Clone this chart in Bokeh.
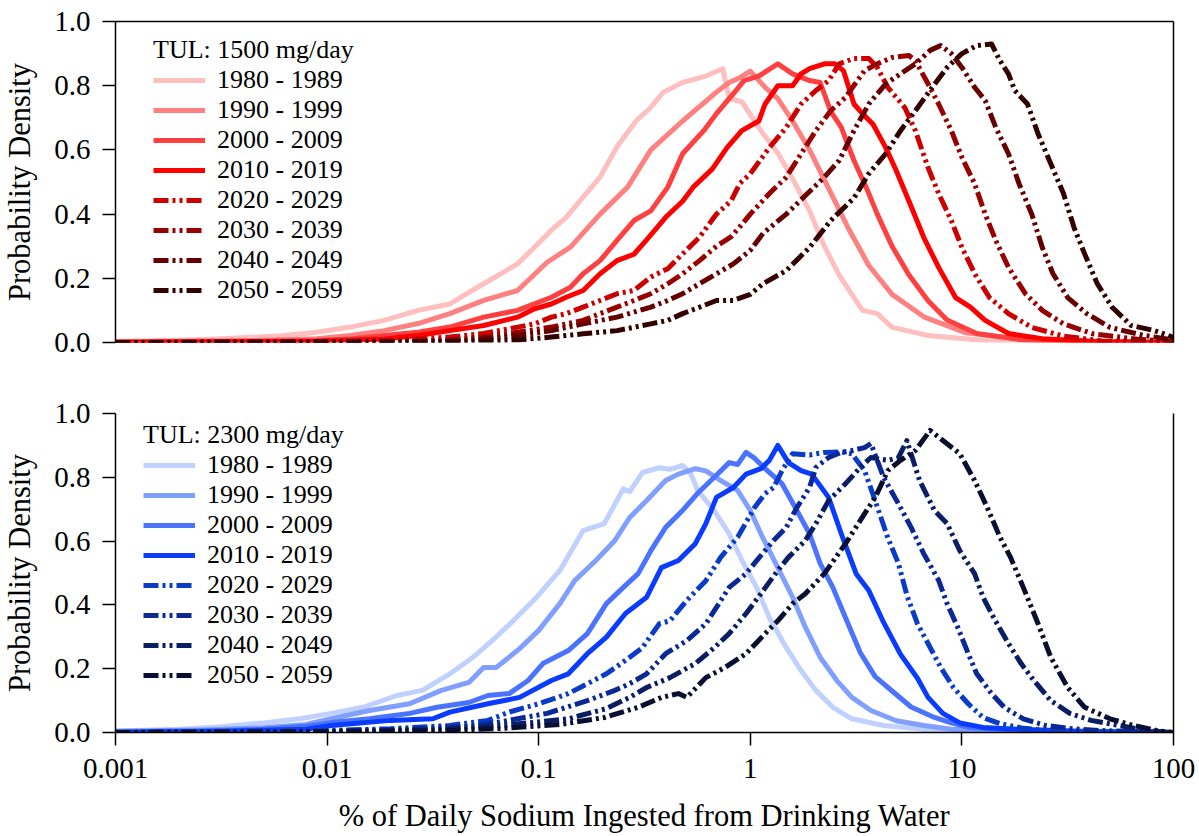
from bokeh.plotting import figure
from bokeh.models import (Range1d, LogAxis, LinearAxis, FixedTicker, PrintfTickFormatter,
                          CustomJSTickFormatter, Legend, LegendItem)
from bokeh.layouts import column
from bokeh.embed import file_html
from bokeh.resources import INLINE

# ---------------- data (x given as log10 of %, y = probability density) ----------------
DECADES = ["1980 - 1989", "1990 - 1999", "2000 - 2009", "2010 - 2019",
           "2020 - 2029", "2030 - 2039", "2040 - 2049", "2050 - 2059"]
TUL_TOP = "TUL: 1500 mg/day"
TUL_BOTTOM = "TUL: 2300 mg/day"
X_LABEL = "% of Daily Sodium Ingested from Drinking Water"
Y_LABEL = "Probability Density"
X_TICKS = [0.001, 0.01, 0.1, 1, 10, 100]
Y_TICKS = [0.0, 0.2, 0.4, 0.6, 0.8, 1.0]
RED_COLORS = ["#FFBFBF", "#FF8080", "#FF4040", "#FF0000", "#CC0000", "#990000", "#660000", "#330000"]
BLUE_COLORS = ["#C0D0FF", "#809FFF", "#4A73FF", "#0A3CFF", "#0A3CC8", "#0A2896", "#0A1E64", "#0A0F32"]

top_1980 = [(-3.0, 0.003), (-2.7, 0.007), (-2.5, 0.012), (-2.36, 0.016), (-2.2, 0.022), (-2.05, 0.032),
            (-1.89, 0.048), (-1.73, 0.069), (-1.57, 0.10), (-1.42, 0.12), (-1.34, 0.152), (-1.26, 0.183),
            (-1.18, 0.214), (-1.10, 0.245), (-1.02, 0.297), (-0.94, 0.35), (-0.87, 0.39), (-0.79, 0.453),
            (-0.71, 0.515), (-0.63, 0.61), (-0.54, 0.69), (-0.47, 0.733), (-0.41, 0.78), (-0.32, 0.81),
            (-0.21, 0.83), (-0.13, 0.853), (-0.10, 0.76), (-0.04, 0.75), (0.05, 0.66), (0.13, 0.59),
            (0.20, 0.51), (0.28, 0.41), (0.35, 0.30), (0.42, 0.21), (0.53, 0.10), (0.60, 0.09),
            (0.67, 0.047), (0.84, 0.022), (1.11, 0.006), (1.5, 0.002), (2.0, 0.0)]
top_1990 = [(-3.0, 0.002), (-2.7, 0.004), (-2.36, 0.006), (-2.05, 0.012), (-1.89, 0.022), (-1.73, 0.037),
            (-1.57, 0.059), (-1.42, 0.09), (-1.26, 0.131), (-1.10, 0.162), (-0.96, 0.25), (-0.85, 0.297),
            (-0.71, 0.40), (-0.58, 0.484), (-0.47, 0.60), (-0.32, 0.69), (-0.16, 0.78), (-0.10, 0.81),
            (-0.05, 0.825), (0.0, 0.845), (0.07, 0.795), (0.13, 0.76), (0.20, 0.69), (0.28, 0.60),
            (0.37, 0.48), (0.46, 0.36), (0.56, 0.24), (0.67, 0.15), (0.82, 0.08), (1.02, 0.03),
            (1.29, 0.01), (1.6, 0.003), (2.0, 0.0)]
top_2000 = [(-3.0, 0.001), (-2.5, 0.003), (-2.05, 0.006), (-1.89, 0.011), (-1.73, 0.022), (-1.57, 0.032),
            (-1.42, 0.048), (-1.26, 0.079), (-1.10, 0.10), (-0.94, 0.141), (-0.85, 0.172), (-0.79, 0.214),
            (-0.71, 0.255), (-0.63, 0.318), (-0.55, 0.38), (-0.47, 0.41), (-0.39, 0.484), (-0.32, 0.588),
            (-0.22, 0.66), (-0.16, 0.713), (-0.08, 0.775), (-0.03, 0.816), (0.04, 0.83), (0.13, 0.868),
            (0.20, 0.837), (0.28, 0.816), (0.33, 0.81), (0.38, 0.72), (0.43, 0.67), (0.49, 0.567),
            (0.55, 0.48), (0.60, 0.40), (0.67, 0.30), (0.75, 0.21), (0.84, 0.13), (0.93, 0.07),
            (1.07, 0.028), (1.29, 0.008), (1.65, 0.002), (2.0, 0.0)]
top_2010 = [(-3.0, 0.001), (-2.5, 0.002), (-2.05, 0.004), (-1.73, 0.011), (-1.57, 0.022), (-1.42, 0.037),
            (-1.26, 0.053), (-1.10, 0.079), (-1.02, 0.105), (-0.94, 0.12), (-0.87, 0.141), (-0.79, 0.162),
            (-0.71, 0.214), (-0.63, 0.255), (-0.55, 0.275), (-0.49, 0.32), (-0.40, 0.39), (-0.32, 0.44),
            (-0.27, 0.484), (-0.18, 0.54), (-0.11, 0.607), (-0.04, 0.66), (0.04, 0.69), (0.07, 0.743),
            (0.13, 0.80), (0.20, 0.80), (0.24, 0.837), (0.28, 0.853), (0.35, 0.868), (0.40, 0.868),
            (0.44, 0.847), (0.49, 0.743), (0.53, 0.713), (0.58, 0.68), (0.64, 0.607), (0.69, 0.535),
            (0.75, 0.44), (0.82, 0.327), (0.89, 0.234), (0.97, 0.14), (1.04, 0.11), (1.11, 0.069),
            (1.22, 0.028), (1.38, 0.012), (1.66, 0.002), (2.0, 0.0)]
top_2020 = [(-3.0, 0.0), (-2.5, 0.001), (-2.0, 0.002), (-1.73, 0.006), (-1.42, 0.017), (-1.26, 0.028),
            (-1.10, 0.048), (-1.02, 0.058), (-0.94, 0.079), (-0.87, 0.09), (-0.79, 0.11), (-0.71, 0.131),
            (-0.63, 0.152), (-0.55, 0.162), (-0.47, 0.204), (-0.39, 0.23), (-0.32, 0.276), (-0.24, 0.328),
            (-0.16, 0.40), (-0.09, 0.442), (-0.05, 0.495), (0.0, 0.526), (0.09, 0.607), (0.17, 0.67),
            (0.24, 0.743), (0.31, 0.785), (0.37, 0.816), (0.42, 0.868), (0.49, 0.885), (0.56, 0.885),
            (0.60, 0.857), (0.65, 0.795), (0.73, 0.732), (0.78, 0.66), (0.84, 0.545), (0.89, 0.464),
            (0.95, 0.38), (1.00, 0.296), (1.06, 0.215), (1.13, 0.14), (1.22, 0.09), (1.33, 0.047),
            (1.48, 0.02), (1.66, 0.005), (2.0, 0.0)]
top_2030 = [(-3.0, 0.0), (-2.0, 0.001), (-1.6, 0.004), (-1.42, 0.008), (-1.26, 0.017), (-1.10, 0.032),
            (-0.94, 0.048), (-0.79, 0.069), (-0.71, 0.09), (-0.63, 0.11), (-0.55, 0.131), (-0.47, 0.152),
            (-0.39, 0.183), (-0.32, 0.214), (-0.24, 0.255), (-0.16, 0.30), (-0.09, 0.33), (-0.05, 0.36),
            (0.0, 0.40), (0.09, 0.464), (0.17, 0.515), (0.24, 0.588), (0.31, 0.66), (0.38, 0.722),
            (0.45, 0.764), (0.54, 0.847), (0.60, 0.868), (0.67, 0.888), (0.75, 0.894), (0.78, 0.878),
            (0.84, 0.806), (0.89, 0.743), (0.95, 0.66), (1.00, 0.577), (1.06, 0.495), (1.11, 0.40),
            (1.16, 0.318), (1.22, 0.234), (1.30, 0.152), (1.38, 0.10), (1.48, 0.058), (1.62, 0.027),
            (1.83, 0.01), (2.0, 0.003)]
top_2040 = [(-3.0, 0.0), (-2.0, 0.001), (-1.4, 0.004), (-1.26, 0.011), (-1.10, 0.022), (-0.94, 0.037),
            (-0.79, 0.058), (-0.63, 0.079), (-0.47, 0.11), (-0.39, 0.131), (-0.32, 0.152), (-0.24, 0.183),
            (-0.16, 0.214), (-0.08, 0.245), (0.0, 0.287), (0.06, 0.34), (0.17, 0.40), (0.27, 0.464),
            (0.35, 0.515), (0.42, 0.567), (0.49, 0.66), (0.56, 0.743), (0.64, 0.806), (0.71, 0.837),
            (0.78, 0.868), (0.85, 0.91), (0.90, 0.925), (0.95, 0.90), (1.00, 0.857), (1.06, 0.795),
            (1.11, 0.754), (1.16, 0.67), (1.22, 0.588), (1.27, 0.495), (1.33, 0.40), (1.38, 0.296),
            (1.43, 0.215), (1.50, 0.14), (1.59, 0.09), (1.70, 0.047), (1.86, 0.022), (2.0, 0.008)]
top_2050 = [(-3.0, 0.0), (-1.6, 0.002), (-1.26, 0.005), (-1.10, 0.008), (-0.94, 0.017), (-0.79, 0.027),
            (-0.63, 0.037), (-0.47, 0.058), (-0.39, 0.069), (-0.32, 0.09), (-0.24, 0.11), (-0.16, 0.131),
            (-0.08, 0.131), (0.0, 0.15), (0.06, 0.183), (0.17, 0.224), (0.28, 0.296), (0.38, 0.38),
            (0.49, 0.45), (0.56, 0.526), (0.64, 0.588), (0.71, 0.66), (0.78, 0.722), (0.86, 0.795),
            (0.93, 0.857), (1.00, 0.90), (1.07, 0.925), (1.14, 0.93), (1.18, 0.878), (1.22, 0.837),
            (1.25, 0.785), (1.31, 0.743), (1.36, 0.65), (1.42, 0.557), (1.48, 0.464), (1.53, 0.358),
            (1.58, 0.276), (1.64, 0.183), (1.71, 0.11), (1.80, 0.053), (1.91, 0.037), (2.0, 0.016)]

bot_1980 = [(-3.0, 0.005), (-2.7, 0.01), (-2.5, 0.018), (-2.3, 0.03), (-2.12, 0.044), (-1.98, 0.06),
            (-1.83, 0.079), (-1.67, 0.116), (-1.55, 0.132), (-1.42, 0.184), (-1.31, 0.236), (-1.22, 0.288),
            (-1.12, 0.35), (-1.01, 0.424), (-0.90, 0.508), (-0.79, 0.633), (-0.69, 0.655), (-0.60, 0.764),
            (-0.57, 0.755), (-0.51, 0.815), (-0.43, 0.83), (-0.38, 0.825), (-0.32, 0.837), (-0.28, 0.81),
            (-0.25, 0.76), (-0.17, 0.695), (-0.10, 0.623), (-0.04, 0.54), (0.03, 0.455), (0.09, 0.36),
            (0.17, 0.266), (0.24, 0.194), (0.31, 0.132), (0.39, 0.079), (0.48, 0.043), (0.63, 0.022),
            (0.82, 0.01), (1.1, 0.003), (1.5, 0.001), (2.0, 0.0)]
bot_1990 = [(-3.0, 0.004), (-2.6, 0.008), (-2.3, 0.015), (-2.1, 0.025), (-1.98, 0.043), (-1.80, 0.069),
            (-1.61, 0.09), (-1.46, 0.132), (-1.33, 0.157), (-1.26, 0.204), (-1.20, 0.204), (-1.09, 0.263),
            (-1.00, 0.32), (-0.90, 0.404), (-0.83, 0.476), (-0.73, 0.539), (-0.64, 0.602), (-0.57, 0.674),
            (-0.49, 0.727), (-0.40, 0.79), (-0.34, 0.81), (-0.26, 0.827), (-0.21, 0.82), (-0.14, 0.79),
            (-0.06, 0.759), (0.00, 0.696), (0.05, 0.623), (0.13, 0.517), (0.20, 0.424), (0.26, 0.33),
            (0.33, 0.236), (0.41, 0.162), (0.48, 0.11), (0.57, 0.069), (0.69, 0.037), (0.82, 0.022),
            (0.95, 0.01), (1.2, 0.004), (1.6, 0.001), (2.0, 0.0)]
bot_2000 = [(-3.0, 0.002), (-2.6, 0.005), (-2.3, 0.01), (-2.1, 0.02), (-1.98, 0.031), (-1.80, 0.043),
            (-1.61, 0.06), (-1.48, 0.079), (-1.33, 0.094), (-1.24, 0.116), (-1.14, 0.122), (-1.05, 0.163),
            (-0.98, 0.216), (-0.86, 0.257), (-0.77, 0.31), (-0.68, 0.404), (-0.60, 0.455), (-0.53, 0.498),
            (-0.47, 0.57), (-0.40, 0.643), (-0.32, 0.696), (-0.25, 0.749), (-0.17, 0.80), (-0.10, 0.846),
            (-0.06, 0.84), (-0.02, 0.878), (0.02, 0.86), (0.07, 0.827), (0.15, 0.78), (0.22, 0.696),
            (0.28, 0.623), (0.33, 0.53), (0.39, 0.455), (0.45, 0.36), (0.52, 0.25), (0.59, 0.175),
            (0.67, 0.13), (0.76, 0.08), (0.86, 0.05), (0.95, 0.03), (1.03, 0.016), (1.18, 0.01),
            (1.5, 0.003), (2.0, 0.0)]
bot_2010 = [(-3.0, 0.001), (-2.5, 0.004), (-2.1, 0.01), (-1.98, 0.022), (-1.70, 0.038), (-1.50, 0.043),
            (-1.42, 0.064), (-1.24, 0.09), (-1.09, 0.11), (-0.94, 0.163), (-0.86, 0.184), (-0.77, 0.247),
            (-0.68, 0.299), (-0.59, 0.373), (-0.49, 0.424), (-0.42, 0.517), (-0.34, 0.539), (-0.26, 0.592),
            (-0.21, 0.655), (-0.16, 0.737), (-0.08, 0.768), (-0.02, 0.81), (0.05, 0.827), (0.09, 0.853),
            (0.13, 0.90), (0.18, 0.846), (0.24, 0.821), (0.29, 0.81), (0.37, 0.737), (0.43, 0.623),
            (0.50, 0.498), (0.56, 0.445), (0.63, 0.345), (0.71, 0.245), (0.79, 0.17), (0.84, 0.11),
            (0.91, 0.06), (0.99, 0.03), (1.10, 0.016), (1.26, 0.01), (1.6, 0.003), (2.0, 0.0)]
bot_2020 = [(-3.0, 0.0), (-2.5, 0.002), (-2.0, 0.006), (-1.7, 0.012), (-1.42, 0.022), (-1.24, 0.038),
            (-1.14, 0.064), (-1.00, 0.09), (-0.86, 0.122), (-0.77, 0.153), (-0.68, 0.184), (-0.59, 0.226),
            (-0.51, 0.266), (-0.43, 0.341), (-0.38, 0.35), (-0.30, 0.414), (-0.21, 0.476), (-0.14, 0.549),
            (-0.06, 0.612), (0.02, 0.705), (0.07, 0.749), (0.11, 0.768), (0.15, 0.821), (0.20, 0.874),
            (0.28, 0.87), (0.35, 0.878), (0.43, 0.88), (0.48, 0.874), (0.54, 0.821), (0.59, 0.727),
            (0.65, 0.61), (0.70, 0.53), (0.74, 0.43), (0.79, 0.341), (0.84, 0.279), (0.90, 0.204),
            (0.96, 0.141), (1.03, 0.09), (1.10, 0.047), (1.18, 0.028), (1.29, 0.013), (1.42, 0.006),
            (2.0, 0.0)]
bot_2030 = [(-3.0, 0.0), (-2.5, 0.001), (-2.0, 0.004), (-1.6, 0.01), (-1.3, 0.02), (-1.14, 0.038),
            (-0.96, 0.06), (-0.77, 0.10), (-0.64, 0.132), (-0.57, 0.153), (-0.49, 0.184), (-0.40, 0.247),
            (-0.30, 0.288), (-0.21, 0.341), (-0.16, 0.392), (-0.10, 0.455), (-0.02, 0.498), (0.03, 0.539),
            (0.11, 0.602), (0.17, 0.643), (0.22, 0.705), (0.28, 0.768), (0.31, 0.831), (0.37, 0.862),
            (0.43, 0.878), (0.48, 0.884), (0.54, 0.893), (0.57, 0.906), (0.63, 0.80), (0.71, 0.705),
            (0.76, 0.643), (0.82, 0.56), (0.89, 0.477), (0.93, 0.404), (0.98, 0.33), (1.03, 0.247),
            (1.07, 0.184), (1.14, 0.122), (1.20, 0.079), (1.29, 0.043), (1.39, 0.023), (1.50, 0.013),
            (1.66, 0.006), (2.0, 0.0)]
bot_2040 = [(-3.0, 0.0), (-2.0, 0.003), (-1.5, 0.008), (-1.2, 0.02), (-0.86, 0.043), (-0.68, 0.075),
            (-0.57, 0.11), (-0.49, 0.141), (-0.38, 0.172), (-0.26, 0.216), (-0.17, 0.266), (-0.10, 0.31),
            (-0.02, 0.373), (0.05, 0.435), (0.13, 0.508), (0.18, 0.549), (0.26, 0.602), (0.31, 0.655),
            (0.37, 0.727), (0.45, 0.78), (0.52, 0.831), (0.57, 0.862), (0.65, 0.853), (0.70, 0.862),
            (0.74, 0.915), (0.80, 0.79), (0.87, 0.696), (0.93, 0.655), (0.99, 0.57), (1.06, 0.498),
            (1.10, 0.424), (1.15, 0.36), (1.22, 0.279), (1.28, 0.216), (1.34, 0.163), (1.42, 0.10),
            (1.51, 0.06), (1.61, 0.038), (1.74, 0.022), (1.89, 0.005), (2.0, 0.0)]
bot_2050 = [(-3.0, 0.0), (-2.0, 0.002), (-1.5, 0.005), (-1.2, 0.012), (-0.9, 0.025), (-0.69, 0.047),
            (-0.53, 0.079), (-0.42, 0.11), (-0.34, 0.122), (-0.30, 0.11), (-0.21, 0.172), (-0.12, 0.204),
            (-0.02, 0.247), (0.07, 0.31), (0.13, 0.35), (0.20, 0.404), (0.26, 0.435), (0.35, 0.498),
            (0.45, 0.592), (0.52, 0.665), (0.59, 0.737), (0.65, 0.821), (0.71, 0.853), (0.78, 0.884),
            (0.85, 0.947), (0.99, 0.874), (1.06, 0.79), (1.12, 0.705), (1.18, 0.612), (1.23, 0.549),
            (1.29, 0.455), (1.36, 0.341), (1.42, 0.236), (1.50, 0.141), (1.58, 0.079), (1.70, 0.043),
            (1.81, 0.022), (1.93, 0.005), (2.0, 0.0)]

TOP_SERIES = [top_1980, top_1990, top_2000, top_2010, top_2020, top_2030, top_2040, top_2050]
BOT_SERIES = [bot_1980, bot_1990, bot_2000, bot_2010, bot_2020, bot_2030, bot_2040, bot_2050]

# ---------------- styling ----------------
FONT = "Liberation Serif"
TICK_SIZE = "29px"
AXLABEL_SIZE = "30.5px"
LEG_SIZE = "26px"
DASH = "15 4 3 4 3 4"
LINE_W = 5


def style_y(p):
    ax = p.yaxis[0]
    ax.ticker = FixedTicker(ticks=Y_TICKS)
    ax.formatter = PrintfTickFormatter(format="%.1f")
    ax.minor_tick_line_color = None
    ax.major_tick_out = 13
    ax.major_tick_in = 0
    ax.major_tick_line_width = 1.5
    ax.axis_line_width = 1.5
    ax.axis_line_color = "black"
    ax.major_tick_line_color = "black"
    ax.major_label_text_font = FONT
    ax.major_label_text_font_size = TICK_SIZE
    ax.major_label_text_color = "black"
    ax.major_label_standoff = 12
    ax.axis_label = Y_LABEL
    ax.axis_label_text_font = FONT
    ax.axis_label_text_font_size = AXLABEL_SIZE
    ax.axis_label_text_font_style = "normal"
    ax.axis_label_text_color = "black"
    ax.axis_label_standoff = 14


def blank_axis(cls):
    return cls(ticker=FixedTicker(ticks=[]), major_label_text_font_size="0px",
               major_tick_line_color=None, minor_tick_line_color=None,
               axis_line_width=1.5, axis_line_color="black", major_label_standoff=0)


def add_curves(p, series, colors, title, loc):
    items = []
    for i, pts in enumerate(series):
        xs = [10 ** lx for lx, _ in pts]
        ys = [v for _, v in pts]
        dash = "solid" if i < 4 else DASH
        r = p.line(xs, ys, line_color=colors[i], line_width=LINE_W, line_dash=dash,
                   line_join="round", line_cap="butt")
        items.append(LegendItem(label=DECADES[i], renderers=[r]))
    leg = Legend(items=items, title=title, location=loc,
                 title_text_font=FONT, title_text_font_size=LEG_SIZE, title_text_font_style="normal",
                 title_text_color="black", title_standoff=0,
                 label_text_font=FONT, label_text_font_size=LEG_SIZE, label_text_color="black",
                 glyph_width=52, glyph_height=30, label_height=30, label_standoff=12,
                 spacing=0, padding=0, margin=0, border_line_color=None,
                 background_fill_alpha=0)
    p.add_layout(leg)


# ---------------- top panel ----------------
p1 = figure(width=1199, height=377, x_axis_type="log", x_axis_location=None,
            x_range=Range1d(0.001, 100), y_range=Range1d(0, 1),
            output_backend="svg", toolbar_location=None,
            min_border_left=115, min_border_right=26, min_border_top=21, min_border_bottom=35)
p1.outline_line_color = None
p1.grid.visible = False
p1.background_fill_color = "white"
style_y(p1)
p1.add_layout(blank_axis(LogAxis), "above")
p1.add_layout(blank_axis(LinearAxis), "right")
add_curves(p1, TOP_SERIES, RED_COLORS, TUL_TOP, (38, 37))

# ---------------- bottom panel ----------------
p2 = figure(width=1199, height=459, x_axis_type="log",
            x_range=Range1d(0.001, 100), y_range=Range1d(0, 1),
            output_backend="svg", toolbar_location=None,
            min_border_left=115, min_border_right=26, min_border_top=36, min_border_bottom=104)
p2.outline_line_color = None
p2.grid.visible = False
style_y(p2)
xa = p2.xaxis[0]
xa.ticker = FixedTicker(ticks=X_TICKS)
xa.formatter = CustomJSTickFormatter(code="return tick.toString();")
xa.minor_tick_line_color = None
xa.major_tick_out = 13
xa.major_tick_in = 0
xa.major_tick_line_width = 1.5
xa.axis_line_width = 1.5
xa.axis_line_color = "black"
xa.major_tick_line_color = "black"
xa.major_label_text_font = FONT
xa.major_label_text_font_size = TICK_SIZE
xa.major_label_text_color = "black"
xa.major_label_standoff = 13
xa.axis_label = X_LABEL
xa.axis_label_text_font = FONT
xa.axis_label_text_font_size = AXLABEL_SIZE
xa.axis_label_text_font_style = "normal"
xa.axis_label_text_color = "black"
xa.axis_label_standoff = 18
p2.add_layout(blank_axis(LinearAxis), "right")
add_curves(p2, BOT_SERIES, BLUE_COLORS, TUL_BOTTOM, (28, 42))

layout = column(p1, p2, spacing=0)
open("out.html", "w").write(file_html(layout, INLINE))
